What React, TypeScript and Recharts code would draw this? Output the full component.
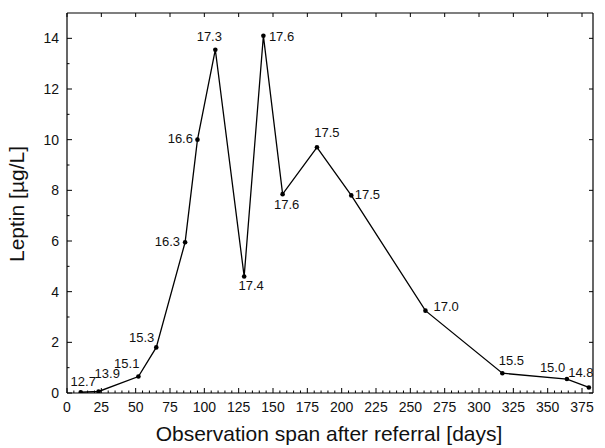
import { LineChart, Line, XAxis, YAxis } from 'recharts'

// observation day, leptin level and BMI annotation for each visit
const DAYS = [10, 23, 52, 65, 86, 95, 108, 129, 143, 157, 182, 207, 261, 317, 364, 380]
const LEPTIN = [0.03, 0.06, 0.65, 1.8, 5.95, 10.0, 13.55, 4.6, 14.1, 7.85, 9.7, 7.8, 3.25, 0.78, 0.55, 0.22]
const BMI = ['12.7', '13.9', '15.1', '15.3', '16.3', '16.6', '17.3', '17.4', '17.6', '17.6', '17.5', '17.5', '17.0', '15.5', '15.0', '14.8']

const X_TICKS = Array.from({ length: 76 }, (_, i) => i * 5)
const Y_TICKS = [0, 1, 2, 3, 4, 5, 6, 7, 8, 9, 10, 11, 12, 13, 14]
const TOP_TICKS = [0, 25, 50, 75, 100, 125, 150, 175, 200, 225, 250, 275, 300, 325, 350, 375]
const RIGHT_TICKS = [0, 2, 4, 6, 8, 10, 12, 14]

// where each BMI label sits relative to its point: [dx, dy, anchor]
const LABEL_PLACE: [number, number, string][] = [
    [2.5, -6.5, 'middle'],
    [-4, -13.5, 'start'],
    [1, -8.5, 'end'],
    [-2, -5, 'end'],
    [-5, 4, 'end'],
    [-4.5, 3.5, 'end'],
    [-6, -9, 'middle'],
    [7, 14, 'middle'],
    [5.5, 5, 'start'],
    [4, 15, 'middle'],
    [10, -10, 'middle'],
    [3.5, 4, 'start'],
    [8, 0, 'start'],
    [9, -8, 'middle'],
    [-1.7, -7, 'end'],
    [4.6, -10, 'end'],
]

const W = 605
const H = 448
const LEFT = 67
const RIGHT = 593
const TOP = 13
const BOTTOM = 393
const FONT = 'Arial, "Liberation Sans", Helvetica, sans-serif'

const data = DAYS.map((d, i) => ({ day: d, leptin: LEPTIN[i], bmi: BMI[i] }))

const renderDot = (p: any) => {
    const { cx, cy, index, payload } = p
    const [dx, dy, anchor] = LABEL_PLACE[index]
    return (
        <g key={`dot-${index}`}>
            <circle cx={cx} cy={cy} r={2.3} fill="#000" />
            <text x={cx + dx} y={cy + dy} textAnchor={anchor as any} fontSize={13} fontFamily={FONT} fill="#111">{payload.bmi}</text>
        </g>
    )
}

const BottomTick = (p: any) => {
    const v = p.payload.value
    const major = v % 25 === 0
    return (
        <g>
            <line x1={p.x} x2={p.x} y1={BOTTOM} y2={BOTTOM - (major ? 5 : 2.5)} stroke="#000" strokeWidth={1} />
            {major && <text x={p.x} y={BOTTOM + 19} textAnchor="middle" fontSize={14} fontFamily={FONT} fill="#111">{v}</text>}
        </g>
    )
}

const LeftTick = (p: any) => {
    const v = p.payload.value
    const major = v % 2 === 0
    return (
        <g>
            <line x1={LEFT} x2={LEFT + (major ? 5 : 2.5)} y1={p.y} y2={p.y} stroke="#000" strokeWidth={1} />
            {major && <text x={59} y={p.y + 5} textAnchor="end" fontSize={14} fontFamily={FONT} fill="#111">{v}</text>}
        </g>
    )
}

const TopTick = (p: any) => (
    <line x1={p.x} x2={p.x} y1={TOP} y2={TOP + 4} stroke="#000" strokeWidth={1} />
)

const RightTick = (p: any) => (
    <line x1={RIGHT} x2={RIGHT - 4} y1={p.y} y2={p.y} stroke="#000" strokeWidth={1} />
)

export default function App() {
    return (
        <div style={{ position: 'absolute', left: 0, top: 0, width: W, height: H, background: '#fff' }}>
            <LineChart width={W} height={H} data={data} margin={{ top: 0, right: 0, bottom: 0, left: 0 }}>
                <XAxis
                    xAxisId="bottom"
                    dataKey="day"
                    type="number"
                    domain={[0, 383]}
                    ticks={X_TICKS}
                    interval={0}
                    height={BOTTOM === 393 ? 55 : 55}
                    tickSize={0}
                    tickLine={false}
                    tick={<BottomTick />}
                    axisLine={{ stroke: '#000', strokeWidth: 1.2 }}
                    allowDataOverflow
                    label={{
                        content: () => (
                            <text x={329} y={441} textAnchor="middle" fontSize={21} fontFamily={FONT} fill="#111">
                                Observation span after referral [days]
                            </text>
                        ),
                    }}
                />
                <XAxis
                    xAxisId="top"
                    orientation="top"
                    dataKey="day"
                    type="number"
                    domain={[0, 383]}
                    ticks={TOP_TICKS}
                    interval={0}
                    height={TOP}
                    tickSize={0}
                    tickLine={false}
                    tick={<TopTick />}
                    axisLine={{ stroke: '#000', strokeWidth: 1.2 }}
                    allowDataOverflow
                />
                <YAxis
                    yAxisId="left"
                    type="number"
                    domain={[0, 15]}
                    ticks={Y_TICKS}
                    interval={0}
                    width={LEFT}
                    tickSize={0}
                    tickLine={false}
                    tick={<LeftTick />}
                    axisLine={{ stroke: '#000', strokeWidth: 1.2 }}
                    allowDataOverflow
                    label={{
                        content: () => (
                            <text x={24} y={204} textAnchor="middle" fontSize={21} fontFamily={FONT} fill="#111" transform="rotate(-90 24 204)">
                                Leptin [µg/L]
                            </text>
                        ),
                    }}
                />
                <YAxis
                    yAxisId="right"
                    orientation="right"
                    type="number"
                    domain={[0, 15]}
                    ticks={RIGHT_TICKS}
                    interval={0}
                    width={W - RIGHT}
                    tickSize={0}
                    tickLine={false}
                    tick={<RightTick />}
                    axisLine={{ stroke: '#000', strokeWidth: 1.2 }}
                    allowDataOverflow
                />
                <Line
                    xAxisId="bottom"
                    yAxisId="left"
                    type="linear"
                    dataKey="leptin"
                    stroke="#000"
                    strokeWidth={1.3}
                    dot={renderDot}
                    activeDot={false}
                    isAnimationActive={false}
                />
            </LineChart>
        </div>
    )
}
